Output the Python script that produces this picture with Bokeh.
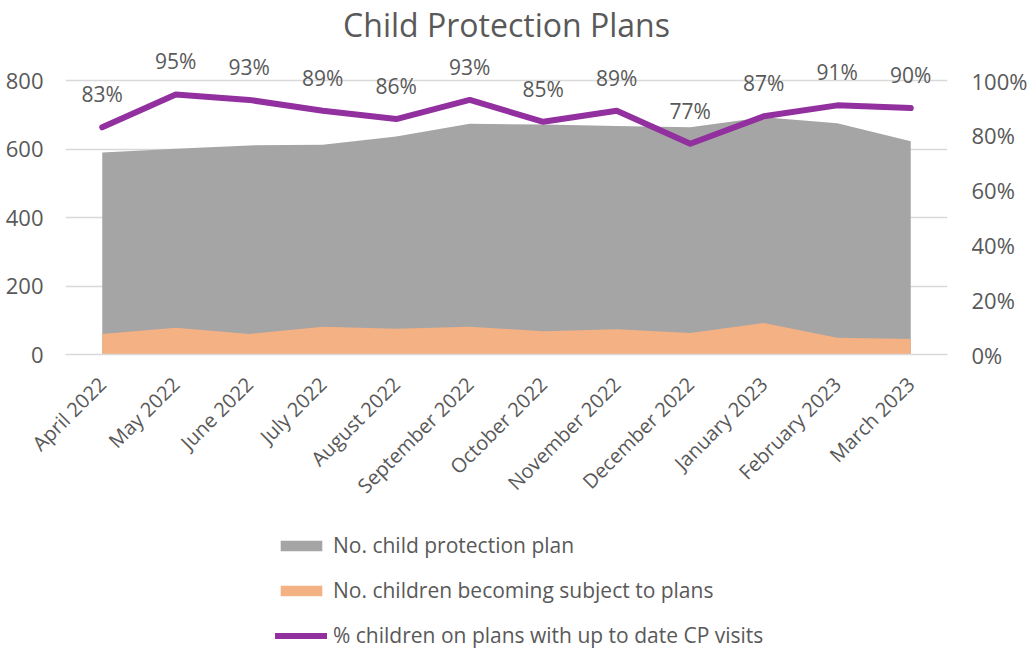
from math import pi
from bokeh.plotting import figure
from bokeh.layouts import column
from bokeh.models import (Range1d, LinearAxis, FixedTicker, ColumnDataSource, LabelSet,
                          Legend, LegendItem, CustomJSTickFormatter, FactorRange)
from bokeh.core.properties import value
from bokeh.embed import file_html
from bokeh.resources import INLINE

months = ["April 2022", "May 2022", "June 2022", "July 2022", "August 2022", "September 2022",
          "October 2022", "November 2022", "December 2022", "January 2023", "February 2023", "March 2023"]
cp_plans = [590, 601, 611, 613, 637, 674, 672, 668, 664, 693, 676, 623]
new_subjects = [60, 78, 60, 81, 75, 81, 68, 74, 63, 92, 49, 45]
pct_visits = [83, 95, 93, 89, 86, 93, 85, 89, 77, 87, 91, 90]
series_names = ["No. child protection plan", "No. children becoming subject to plans",
                "% children on plans with up to date CP visits"]

FONT = "Open Sans"
TXT = "#595959"
GRAY = "#a5a5a5"
ORANGE = "#f4b183"
PURPLE = "#92309f"

src = ColumnDataSource(dict(
    m=months, cp=cp_plans, new=new_subjects, pct=pct_visits,
    lbl=[f"{v}%" for v in pct_visits], zero=[0] * len(months)))

p = figure(x_range=FactorRange(*months), y_range=Range1d(0, 900),
           frame_width=882, frame_height=308,
           min_border_left=65, min_border_right=80, min_border_top=46, min_border_bottom=150,
           output_backend="svg", toolbar_location=None, title="Child Protection Plans")
p.extra_y_ranges = {"pct": Range1d(0, 112.5)}

p.title.align = "center"
p.title.vertical_align = "middle"
p.title.text_font = FONT
p.title.text_font_size = "32px"
p.title.text_font_style = "normal"
p.title.text_color = TXT
p.title.standoff = 0

p.outline_line_color = None
p.background_fill_color = "white"
p.border_fill_color = "white"

p.varea(x="m", y1="zero", y2="cp", source=src, fill_color=GRAY)
p.varea(x="m", y1="zero", y2="new", source=src, fill_color=ORANGE)
p.line(x="m", y="pct", source=src, y_range_name="pct", line_color=PURPLE,
       line_width=6, line_join="round", line_cap="round")

labels = LabelSet(x="m", y="pct", text="lbl", source=src, y_range_name="pct",
                  text_align="center", text_baseline="bottom", y_offset=19,
                  text_font=value(FONT), text_font_size=value("21px"), text_color=TXT)
p.add_layout(labels)

p.xgrid.grid_line_color = None
p.ygrid.grid_line_color = "#d9d9d9"
p.ygrid.grid_line_width = 1.3
p.ygrid.ticker = FixedTicker(ticks=[0, 200, 400, 600, 800])

ly = p.yaxis[0]
ly.ticker = FixedTicker(ticks=[0, 200, 400, 600, 800])
ly.axis_line_color = None
ly.major_tick_line_color = None
ly.minor_tick_line_color = None
ly.major_label_text_font = FONT
ly.major_label_text_font_size = "22px"
ly.major_label_text_color = TXT
ly.major_label_standoff = 16

ry = LinearAxis(y_range_name="pct", ticker=FixedTicker(ticks=[0, 20, 40, 60, 80, 100]),
                formatter=CustomJSTickFormatter(code="return tick + '%';"))
ry.axis_line_color = None
ry.major_tick_line_color = None
ry.minor_tick_line_color = None
ry.major_label_text_font = FONT
ry.major_label_text_font_size = "22px"
ry.major_label_text_color = TXT
ry.major_label_standoff = 18
p.add_layout(ry, "right")

xa = p.xaxis[0]
xa.axis_line_color = "#d9d9d9"
xa.axis_line_width = 1.5
xa.major_tick_line_color = None
xa.major_label_orientation = pi / 4
xa.major_label_text_font = FONT
xa.major_label_text_font_size = "20px"
xa.major_label_text_color = TXT
xa.major_label_standoff = 20

# legend panel below the chart (proxy renderers sit outside the visible range)
q = figure(x_range=Range1d(0, 1), y_range=Range1d(0, 1), frame_width=1027, frame_height=147,
           min_border=0, x_axis_type=None, y_axis_type=None,
           output_backend="svg", toolbar_location=None)
q.outline_line_color = None
q.xgrid.grid_line_color = None
q.ygrid.grid_line_color = None
lg_gray = q.varea(x=[5, 6], y1=[5, 5], y2=[6, 6], fill_color=GRAY)
lg_orange = q.varea(x=[5, 6], y1=[5, 5], y2=[6, 6], fill_color=ORANGE)
lg_line = q.line(x=[5, 6], y=[5, 5], line_color=PURPLE, line_width=6, line_cap="round")

legend = Legend(items=[
    LegendItem(label=series_names[0], renderers=[lg_gray]),
    LegendItem(label=series_names[1], renderers=[lg_orange]),
    LegendItem(label=series_names[2], renderers=[lg_line]),
], orientation="vertical", location=(275, 9),
    label_text_font=FONT, label_text_font_size="21px", label_text_color=TXT,
    glyph_width=52, glyph_height=13, label_height=22, spacing=17, padding=0, margin=0,
    border_line_color=None, background_fill_alpha=0, label_standoff=6)
q.add_layout(legend, "center")

open("out.html", "w").write(file_html(column(p, q, spacing=0), INLINE))
